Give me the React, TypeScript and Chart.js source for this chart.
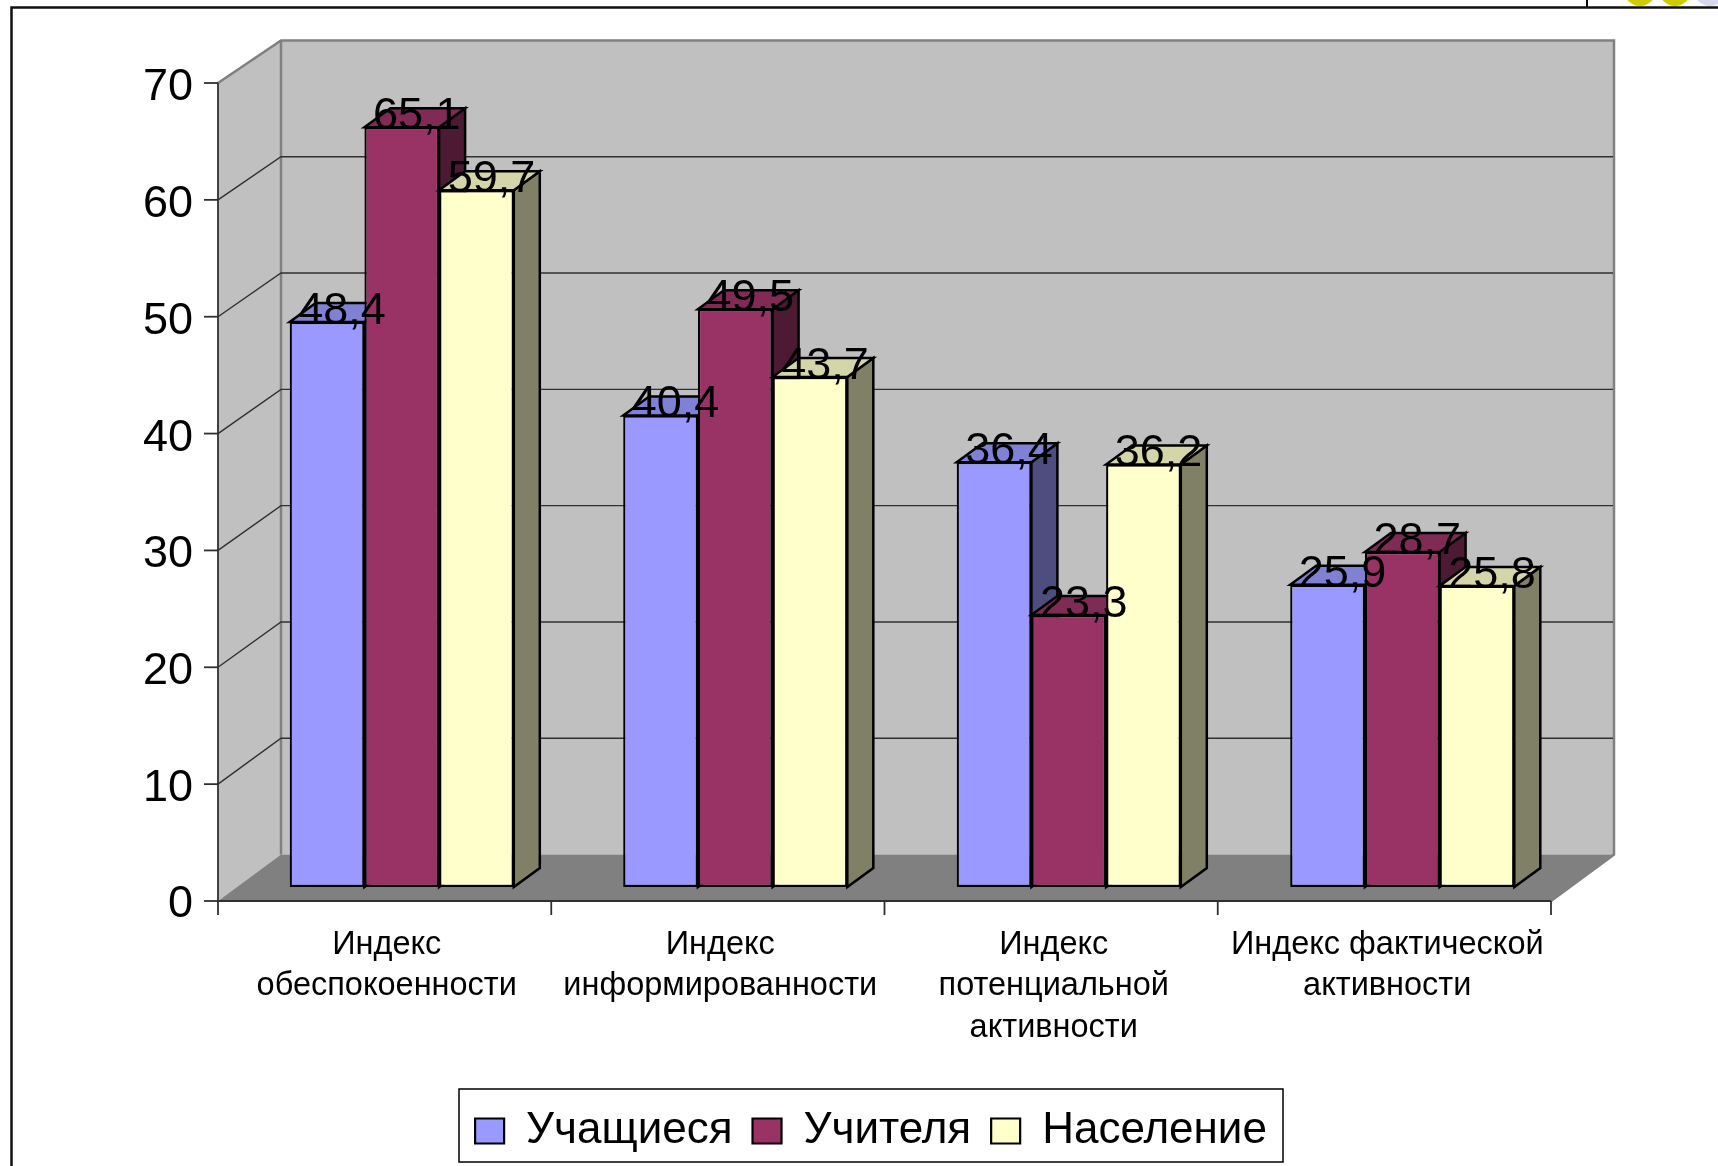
import React, { useEffect, useRef } from "react";
import { Chart, registerables } from "chart.js";

Chart.register(...registerables);

const categories = [
  ["Индекс", "обеспокоенности"],
  ["Индекс", "информированности"],
  ["Индекс", "потенциальной", "активности"],
  ["Индекс фактической", "активности"],
];
const students = [48.4, 40.4, 36.4, 25.9];
const teachers = [65.1, 49.5, 23.3, 28.7];
const population = [59.7, 43.7, 36.2, 25.8];
const seriesNames = ["Учащиеся", "Учителя", "Население"];
const frontColors = ["#9999FF", "#993366", "#FFFFCC"];
const topColors = ["#8080D5", "#802B55", "#D5D5AA"];
const sideColors = ["#4D4D80", "#4D1A33", "#808066"];
const FONT = '"Liberation Sans", Arial, sans-serif';

function poly(ctx: CanvasRenderingContext2D, pts: number[][], fill?: string, stroke?: string, lw = 1) {
  ctx.beginPath();
  pts.forEach((p, i) => (i ? ctx.lineTo(p[0], p[1]) : ctx.moveTo(p[0], p[1])));
  if (fill) {
    ctx.closePath();
    ctx.fillStyle = fill;
    ctx.fill();
  }
  if (stroke) {
    ctx.strokeStyle = stroke;
    ctx.lineWidth = lw;
    ctx.stroke();
  }
}

const box3d = {
  id: "box3d",
  beforeDatasetsDraw(chart: any) {
    const { ctx, scales, chartArea } = chart;
    const y = scales.y;
    const L = chartArea.left - 17;
    const R = chartArea.right - 18;
    const DX = 63;
    const front = (v: number) => y.getPixelForValue(v) + 14 - (v / 70) * 1;
    const back = (v: number) => y.getPixelForValue(v) - 32.4 + (v / 70) * 2.8;

    ctx.save();
    // back wall, side wall, floor
    poly(ctx, [[L + DX, back(70)], [R + DX, back(70)], [R + DX, back(0)], [L + DX, back(0)]], "#C0C0C0");
    poly(ctx, [[L, front(70)], [L + DX, back(70)], [L + DX, back(0)], [L, front(0)]], "#C0C0C0");
    poly(ctx, [[L, front(0)], [L + DX, back(0)], [R + DX, back(0)], [R, front(0)]], "#808080");
    poly(ctx, [[L, front(70)], [L + DX, back(70)], [R + DX, back(70)], [R + DX, back(0)], [R, front(0)]], undefined, "#808080", 2.5);
    poly(ctx, [[L + DX, back(70)], [L + DX, back(0)]], undefined, "#808080", 2.5);
    // gridlines, carried across both walls
    for (let v = 10; v <= 60; v += 10) {
      poly(ctx, [[L, front(v)], [L + DX, back(v)], [R + DX - 1, back(v)]], undefined, "#303030", 1.4);
    }
    // axes and ticks
    poly(ctx, [[L, front(70)], [L, front(0) + 14]], undefined, "#303030", 1.8);
    poly(ctx, [[L, front(0)], [R, front(0)]], undefined, "#303030", 1.8);
    for (let v = 0; v <= 70; v += 10) {
      poly(ctx, [[L - 14, front(v)], [L, front(v)]], undefined, "#303030", 1.8);
    }
    for (let i = 1; i <= categories.length; i++) {
      const x = L + ((R - L) * i) / categories.length;
      poly(ctx, [[x, front(0)], [x, front(0) + 14]], undefined, "#303030", 1.8);
    }
    // bars, painted left to right so nearer faces cover the sides behind them
    const metas = [0, 1, 2].map((i) => chart.getDatasetMeta(i));
    const bx = 26;
    const by = -19;
    categories.forEach((_, c) => {
      metas.forEach((meta, d) => {
        const bar = meta.data[c];
        const l = bar.x - bar.width / 2;
        const r = bar.x + bar.width / 2;
        const t = bar.y;
        const b = bar.base;
        poly(ctx, [[r, t], [r + bx, t + by], [r + bx, b + by], [r, b]], sideColors[d], "#000", 2.5);
        poly(ctx, [[l, t], [l + bx, t + by], [r + bx, t + by], [r, t]], topColors[d], "#000", 2.5);
        bar.draw(ctx);
      });
    });
    ctx.restore();
    return false;
  },
  afterLayout(chart: any) {
    const lg = chart.legend;
    const height = lg.height;
    lg.left = 0;
    lg.right = 1742;
    lg.top = 1089;
    lg.bottom = 1089 + height;
  },
  afterDraw(chart: any) {
    const { ctx } = chart;
    ctx.save();
    // value labels
    ctx.font = `45px ${FONT}`;
    ctx.fillStyle = "#000";
    ctx.textAlign = "center";
    ctx.textBaseline = "alphabetic";
    [0, 1, 2].forEach((d) => {
      const meta = chart.getDatasetMeta(d);
      meta.data.forEach((bar: any, c: number) => {
        const v = chart.data.datasets[d].data[c];
        ctx.fillText(String(v).replace(".", ","), bar.x + 15, bar.y + 2);
      });
    });
    // legend frame
    ctx.strokeStyle = "#000";
    ctx.lineWidth = 1.5;
    ctx.strokeRect(459, 1089, 824, 73);
    // slide frame behind the chart
    poly(ctx, [[11.5, 1166], [11.5, 7.5], [1718, 7.5]], undefined, "#101010", 2.5);
    poly(ctx, [[1587, 0], [1587, 7]], undefined, "#000", 2);
    [[1640, "#CCCC00"], [1675, "#CCCC00"], [1710, "#D6D8EE"]].forEach(([x, col]) => {
      ctx.beginPath();
      ctx.arc(x as number, -10, 16, 0, Math.PI * 2);
      ctx.fillStyle = col as string;
      ctx.fill();
    });
    ctx.restore();
  },
};

export default function App() {
  const ref = useRef<HTMLCanvasElement>(null);
  useEffect(() => {
    const chart = new Chart(ref.current!, {
      type: "bar",
      plugins: [box3d],
      data: {
        labels: categories,
        datasets: [students, teachers, population].map((data, i) => ({
          label: seriesNames[i],
          data,
          backgroundColor: frontColors[i],
          borderColor: "#000",
          borderWidth: 2.2,
          borderSkipped: false,
          categoryPercentage: 0.672,
          barPercentage: 1,
        })),
      },
      options: {
        animation: false,
        responsive: false,
        layout: { padding: { left: 0, right: 149, top: 70, bottom: 0 } },
        plugins: {
          title: { display: false },
          tooltip: { enabled: false },
          legend: {
            position: "bottom",
            labels: {
              font: { family: FONT, size: 44 },
              color: "#000",
              boxWidth: 29,
              boxHeight: 25,
              padding: 20,
            },
          },
        },
        scales: {
          x: {
            grid: { display: false },
            border: { display: false },
            afterFit(s: any) {
              s.height = 1166 - 887 - (s.chart.legend?.height ?? 0);
            },
            ticks: {
              autoSkip: false,
              maxRotation: 0,
              minRotation: 0,
              color: "#000",
              labelOffset: -15,
              padding: 29,
              font: { family: FONT, size: 32.5, lineHeight: 1.28 },
            },
          },
          y: {
            min: 0,
            max: 70,
            grid: { display: false },
            border: { display: false },
            afterFit(s: any) {
              s.width = 235;
            },
            ticks: {
              stepSize: 10,
              color: "#000",
              padding: 34,
              labelOffset: 18,
              font: { family: FONT, size: 45 },
            },
          },
        },
      },
    } as any);
    return () => chart.destroy();
  }, []);
  return (
    <canvas
      ref={ref}
      width={1718}
      height={1166}
      style={{ position: "absolute", left: 0, top: 0, width: 1718, height: 1166, background: "#fff" }}
    />
  );
}
